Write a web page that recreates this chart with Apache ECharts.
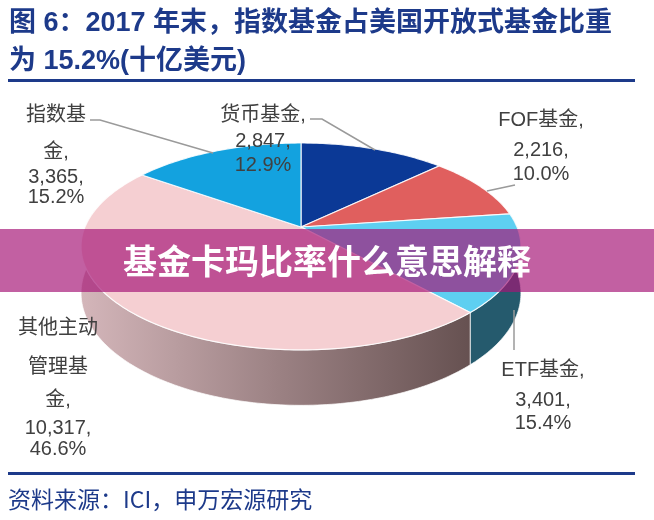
<!DOCTYPE html>
<html>
<head>
<meta charset="utf-8">
<script src="https://cdn.jsdelivr.net/npm/echarts@6/dist/echarts.min.js"></script>
<style>html,body{margin:0;padding:0;background:#fff}#c{width:654px;height:520px}</style>
</head>
<body>
<div id="c"></div>
<script>
// ---- data ----
const categories = ['货币基金', 'FOF基金', 'ETF基金', '其他主动管理基金', '指数基金'];
const values = [2847, 2216, 3401, 10317, 3365];
const topColors = ['#0b3996', '#e05f5e', '#5ecff1', '#f5cfd2', '#13a2df'];
const titleLine1 = '图 6：2017 年末，指数基金占美国开放式基金比重';
const titleLine2 = '为 15.2%(十亿美元)';
const sourceText = '资料来源：ICI，申万宏源研究';
const bannerText = '基金卡玛比率什么意思解释';

// ---- layout (positions / styles only) ----
const nameSplits = [[4], [5], [5], [4, 3, 1], [3, 1]];
const labelLayout = [
  { x: 263, ys: [115, 141, 165], leader: [[310, 119], [322, 119], [375, 150]] },
  { x: 541, ys: [120, 150, 174], leader: [[515, 185], [487, 191]] },
  { x: 543, ys: [370, 400, 423], leader: [[514, 310], [514, 350]] },
  { x: 58, ys: [328, 367, 400, 428, 449], leader: null },
  { x: 56, ys: [115, 152, 177, 197], leader: [[90, 120], [100, 120], [213, 153]] }
];
const CX = 301, CY = 227, A = 216, B = 99.8, K = 0.188, H = 45;

const total = values.reduce((a, b) => a + b, 0);
const starts = [];
(function () { let acc = 0; values.forEach(v => { starts.push(acc); acc += v; }); })();

function proj(deg, r, dz) {
  const t = deg * Math.PI / 180;
  const u = r * Math.sin(t), v = r * Math.cos(t);
  const s = 1 / (1 + K * v);
  return [CX + A * u * s, CY - B * v * s + dz * s];
}
function angles(idx, val) {
  const a0 = starts[idx] / total * 360;
  return [a0, a0 + val / total * 360];
}
function arc(a0, a1, dz) {
  const pts = [];
  const n = Math.max(2, Math.ceil((a1 - a0) / 1));
  for (let i = 0; i <= n; i++) pts.push(proj(a0 + (a1 - a0) * i / n, 1, dz));
  return pts;
}

const wallColors = [
  '#0a2c70', '#a04545', '#255a6d',
  new echarts.graphic.LinearGradient(0, 0, 1, 0, [
    { offset: 0, color: '#d4b6ba' },
    { offset: 0.5, color: '#9c8284' },
    { offset: 1, color: '#665151' }
  ]),
  '#0d74a0'
];

const chart = echarts.init(document.getElementById('c'), null, { renderer: 'canvas' });
const labelFont = '20px "Liberation Sans", "Noto Sans CJK SC", sans-serif';
const titleFont = 'bold 27px "Liberation Sans", "Noto Sans CJK SC", sans-serif';

chart.setOption({
  animation: false,
  backgroundColor: '#ffffff',
  series: [
    {
      type: 'custom',
      coordinateSystem: 'none',
      z: 2,
      data: values.map(v => [v]),
      renderItem: function (params, api) {
        const idx = params.dataIndex;
        const [a0, a1] = angles(idx, api.value(0));
        const b0 = Math.max(a0, 80), b1 = Math.min(a1, 280);
        if (b1 <= b0) return { type: 'group', children: [] };
        const top = arc(b0, b1, 0);
        const bot = arc(b0, b1, H).reverse();
        return {
          type: 'polygon',
          shape: { points: top.concat(bot) },
          style: { fill: wallColors[idx], stroke: 'rgba(255,255,255,0.7)', lineWidth: 1 }
        };
      }
    },
    {
      type: 'custom',
      coordinateSystem: 'none',
      z: 3,
      data: values.map(v => [v]),
      renderItem: function (params, api) {
        const idx = params.dataIndex;
        const [a0, a1] = angles(idx, api.value(0));
        const pts = [proj(0, 0, 0)].concat(arc(a0, a1, 0));
        return {
          type: 'polygon',
          shape: { points: pts },
          style: { fill: topColors[idx], stroke: 'rgba(255,255,255,0.85)', lineWidth: 1.2 }
        };
      }
    },
    {
      type: 'custom',
      coordinateSystem: 'none',
      z: 4,
      data: values.map(v => [v]),
      renderItem: function (params, api) {
        const idx = params.dataIndex;
        const val = api.value(0);
        const name = categories[idx];
        const parts = [];
        let p = 0;
        nameSplits[idx].forEach(n => { parts.push(name.slice(p, p + n)); p += n; });
        parts[parts.length - 1] += ',';
        parts.push(val.toLocaleString('en-US') + ',');
        parts.push((val / total * 100).toFixed(1) + '%');
        const L = labelLayout[idx];
        const children = parts.map((t, i) => ({
          type: 'text',
          style: {
            text: t, x: L.x, y: L.ys[i], fill: '#404040', font: labelFont,
            textAlign: 'center', textVerticalAlign: 'middle'
          }
        }));
        if (L.leader) {
          children.unshift({
            type: 'polyline',
            shape: { points: L.leader },
            style: { stroke: '#9a9a9a', lineWidth: 1.5, fill: null }
          });
        }
        return { type: 'group', children: children };
      }
    }
  ],
  graphic: [
    { type: 'text', z: 10, style: { text: titleLine1, x: 9, y: 24, fill: '#1d3a8a', font: titleFont, textVerticalAlign: 'middle' } },
    { type: 'text', z: 10, style: { text: titleLine2, x: 9, y: 62, fill: '#1d3a8a', font: titleFont, textVerticalAlign: 'middle' } },
    { type: 'rect', z: 10, shape: { x: 8, y: 79, width: 627, height: 3 }, style: { fill: '#1d3a8a' } },
    { type: 'rect', z: 10, shape: { x: 8, y: 472, width: 627, height: 3 }, style: { fill: '#1d3a8a' } },
    { type: 'text', z: 10, style: { text: sourceText, x: 8, y: 499, fill: '#1d3a8a', font: '23px "Noto Sans CJK SC", sans-serif', textVerticalAlign: 'middle' } },
    { type: 'rect', z: 100, shape: { x: 0, y: 229, width: 654, height: 63 }, style: { fill: 'rgba(165,20,118,0.68)' } },
    { type: 'text', z: 101, style: { text: bannerText, x: 327, y: 261, fill: '#ffffff', font: 'bold 34px "Noto Sans CJK SC", sans-serif', textAlign: 'center', textVerticalAlign: 'middle' } }
  ]
});
</script>
</body>
</html>
